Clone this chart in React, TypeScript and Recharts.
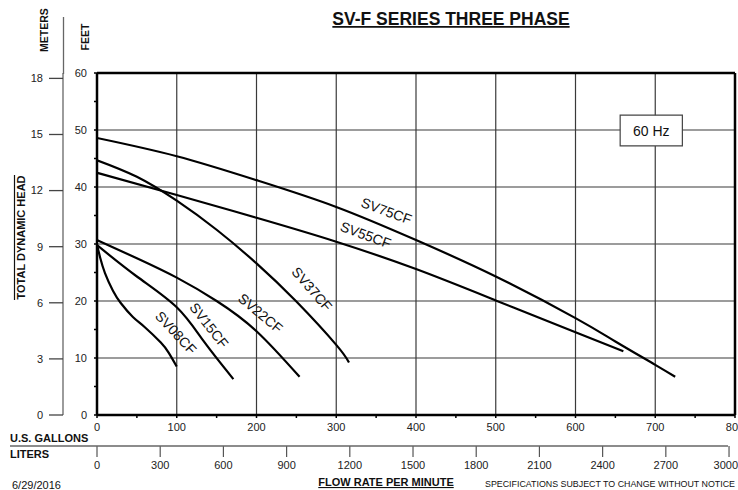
import { LineChart, Line, XAxis, YAxis, CartesianGrid, ReferenceLine, ReferenceArea, ReferenceDot } from 'recharts';

const FONT = '"Liberation Sans", Arial, Helvetica, sans-serif';

// flow in U.S. gallons per minute, head in feet
const sv75Flow = [0, 100, 200, 300, 400, 500, 600, 650, 700, 725];
const sv75Head = [48.6, 45.4, 41.2, 36.5, 30.7, 24.3, 17.0, 12.9, 8.8, 6.7];

const sv55Flow = [0, 100, 200, 300, 400, 500, 600, 660];
const sv55Head = [42.5, 38.6, 34.6, 30.4, 25.6, 20.1, 14.5, 11.2];

const sv37Flow = [0, 50, 100, 150, 200, 250, 300, 316];
const sv37Head = [44.7, 41.8, 37.6, 32.5, 26.6, 19.9, 12.3, 9.2];

const sv22Flow = [0, 50, 100, 150, 200, 254];
const sv22Head = [30.7, 27.5, 24.1, 20.0, 14.7, 6.7];

const sv15Flow = [0, 50, 100, 134, 171];
const sv15Head = [29.8, 24.3, 18.9, 12.9, 6.3];

const sv08Flow = [0, 4, 10, 20, 30, 45, 60, 80, 90, 100];
const sv08Head = [29.8, 27.6, 24.9, 21.8, 19.6, 17.2, 15.4, 12.7, 10.9, 8.5];

// curve names and where their labels sit (flow, head, angle)
const curveNames = ['SV75CF', 'SV55CF', 'SV37CF', 'SV22CF', 'SV15CF', 'SV08CF'];
const labelFlow = [363, 337, 269.5, 205, 140.5, 99];
const labelHead = [35.8, 31.6, 22.1, 17.85, 15.75, 14.45];
const labelAngle = [20, 20, 49, 40, 52, 47];

const galTicks = [0, 50, 100, 150, 200, 250, 300, 350, 400, 450, 500, 550, 600, 650, 700, 750, 800];
const galGrid = [100, 200, 300, 400, 500, 600, 700];
const ftTicks = [0, 5, 10, 15, 20, 25, 30, 35, 40, 45, 50, 55, 60];
const ftGrid = [10, 20, 30, 40, 50];
const meterTicks = [0, 3, 6, 9, 12, 15, 18];
const literTicks = [0, 300, 600, 900, 1200, 1500, 1800, 2100, 2400, 2700, 3000];

const GAL_TO_L = 3.78541;
const FT_PER_M = 3.28084;

const toPoints = (flow: number[], head: number[]) => flow.map((q, i) => ({ q, h: head[i] }));

const series = [
  toPoints(sv75Flow, sv75Head),
  toPoints(sv55Flow, sv55Head),
  toPoints(sv37Flow, sv37Head),
  toPoints(sv22Flow, sv22Head),
  toPoints(sv15Flow, sv15Head),
  toPoints(sv08Flow, sv08Head),
];

// same SV75 curve in liters, only so the liters axis has something to scale
const literPoints = sv75Flow.map((q, i) => ({ L: q * GAL_TO_L, h: sv75Head[i] }));

function GalTick(props: any) {
  const { x, y, payload } = props;
  if (payload.value % 100 !== 0) return <g />;
  return (
    <text x={x} y={y} dy="0.71em" textAnchor="middle" fontSize={11} fill="#222" fontFamily={FONT}>
      {payload.value}
    </text>
  );
}

function FtTick(props: any) {
  const { x, y, payload } = props;
  if (payload.value % 10 !== 0) return <g />;
  return (
    <text x={x} y={y} dy="0.355em" textAnchor="end" fontSize={11} fill="#222" fontFamily={FONT}>
      {payload.value}
    </text>
  );
}

function LiterTick(props: any) {
  const { x, y, payload } = props;
  // last label sits against the page edge
  const anchor = payload.value === 3000 ? 'end' : 'middle';
  const dx = payload.value === 3000 ? 9 : 0;
  return (
    <text x={x + dx} y={y} dy="0.71em" textAnchor={anchor} fontSize={11} fill="#222" fontFamily={FONT}>
      {payload.value}
    </text>
  );
}

function curveLabel(i: number) {
  return (p: any) => (
    <text
      transform={`translate(${p.cx},${p.cy}) rotate(${labelAngle[i]})`}
      textAnchor="middle"
      dominantBaseline="central"
      fontSize={14}
      fill="#111"
      fontFamily={FONT}
    >
      {curveNames[i]}
    </text>
  );
}

export default function App() {
  return (
    <div style={{ position: 'absolute', left: 0, top: 0, width: 738, height: 490, background: '#fff', overflow: 'hidden' }}>
      <LineChart width={738} height={490} margin={{ top: 73, right: 3, bottom: 14, left: 0 }}>
        <CartesianGrid
          xAxisId="g"
          yAxisId="ft"
          stroke="#3a3a3a"
          strokeWidth={1.2}
          verticalValues={galGrid}
          horizontalValues={ftGrid}
        />
        <XAxis
          xAxisId="g"
          dataKey="q"
          type="number"
          domain={[0, 800]}
          ticks={galTicks}
          interval={0}
          height={31}
          stroke="#000"
          strokeWidth={2.5}
          tickSize={3}
          tickMargin={5}
          tick={<GalTick />}
          tickLine={{ stroke: '#000', strokeWidth: 1.5 }}
          allowDataOverflow
        />
        <XAxis
          xAxisId="l"
          dataKey="L"
          type="number"
          domain={[0, 800 * GAL_TO_L]}
          ticks={literTicks}
          interval={0}
          height={30}
          axisLine={false}
          tickSize={11}
          tickMargin={4}
          tickLine={{ stroke: '#555', strokeWidth: 1.2 }}
          tick={<LiterTick />}
          allowDataOverflow
        />
        <YAxis
          yAxisId="ft"
          type="number"
          domain={[0, 60]}
          ticks={ftTicks}
          interval={0}
          width={34}
          stroke="#000"
          strokeWidth={2.5}
          tickSize={3}
          tickMargin={7}
          tick={<FtTick />}
          tickLine={{ stroke: '#000', strokeWidth: 1.5 }}
          allowDataOverflow
        />
        <YAxis
          yAxisId="m"
          type="number"
          domain={[0, 60 / FT_PER_M]}
          ticks={meterTicks}
          interval={0}
          width={63}
          axisLine={{ stroke: '#666', strokeWidth: 1.3 }}
          tickLine={{ stroke: '#444', strokeWidth: 1.3 }}
          tickSize={14}
          tickMargin={6}
          tick={{ fontSize: 11, fill: '#222', fontFamily: FONT }}
          allowDataOverflow
        />
        <ReferenceLine xAxisId="g" yAxisId="ft" y={60} stroke="#000" strokeWidth={2.5} />
        <ReferenceLine xAxisId="g" yAxisId="ft" x={800} stroke="#000" strokeWidth={2.5} />
        <ReferenceArea
          xAxisId="g"
          yAxisId="ft"
          x1={656}
          x2={734}
          y1={47.2}
          y2={52.6}
          fill="#fff"
          fillOpacity={1}
          stroke="#444"
          strokeWidth={1.2}
          label={{ value: '60 Hz', position: 'center', fontSize: 14, fill: '#111', fontFamily: FONT }}
        />
        <Line
          xAxisId="l"
          yAxisId="ft"
          data={literPoints}
          dataKey="h"
          stroke="none"
          strokeOpacity={0}
          dot={false}
          activeDot={false}
          legendType="none"
          isAnimationActive={false}
        />
        {series.map((d, i) => (
          <Line
            key={curveNames[i]}
            xAxisId="g"
            yAxisId="ft"
            data={d}
            dataKey="h"
            type="natural"
            stroke="#000"
            strokeWidth={2.2}
            dot={false}
            isAnimationActive={false}
          />
        ))}
        {curveNames.map((n, i) => (
          <ReferenceDot
            key={n}
            xAxisId="g"
            yAxisId="ft"
            x={labelFlow[i]}
            y={labelHead[i]}
            r={0}
            shape={curveLabel(i)}
          />
        ))}
      </LineChart>
      <svg width={738} height={490} style={{ position: 'absolute', left: 0, top: 0, pointerEvents: 'none' }}>
        <g fontFamily={FONT} fill="#111">
          <text x={451} y={25} textAnchor="middle" fontSize={17.5} fontWeight="bold" style={{ textDecoration: 'underline' }}>
            SV-F SERIES THREE PHASE
          </text>
          <line x1={63.5} y1={17} x2={63.5} y2={74} stroke="#666" strokeWidth={1.3} />
          <text transform="translate(47.5,30) rotate(-90)" textAnchor="middle" fontSize={10.5} fontWeight="bold">METERS</text>
          <text transform="translate(89.3,37) rotate(-90)" textAnchor="middle" fontSize={10.5} fontWeight="bold">FEET</text>
          <text transform="translate(25,237.5) rotate(-90)" textAnchor="middle" fontSize={11} fontWeight="bold">TOTAL DYNAMIC HEAD</text>
          <line x1={14.5} y1={175} x2={14.5} y2={300} stroke="#111" strokeWidth={1.2} />
          <text x={10} y={442} fontSize={11} fontWeight="bold">U.S. GALLONS</text>
          <line x1={10} y1={446} x2={728} y2={446} stroke="#666" strokeWidth={1.3} />
          <text x={10} y={458} fontSize={11} fontWeight="bold">LITERS</text>
          <text x={12} y={488.5} fontSize={11}>6/29/2016</text>
          <text x={386} y={486} textAnchor="middle" fontSize={11} fontWeight="bold" style={{ textDecoration: 'underline' }}>
            FLOW RATE PER MINUTE
          </text>
          <text x={485} y={487.3} fontSize={9} textLength={250} lengthAdjust="spacingAndGlyphs">
            SPECIFICATIONS SUBJECT TO CHANGE WITHOUT NOTICE
          </text>
        </g>
      </svg>
    </div>
  );
}
